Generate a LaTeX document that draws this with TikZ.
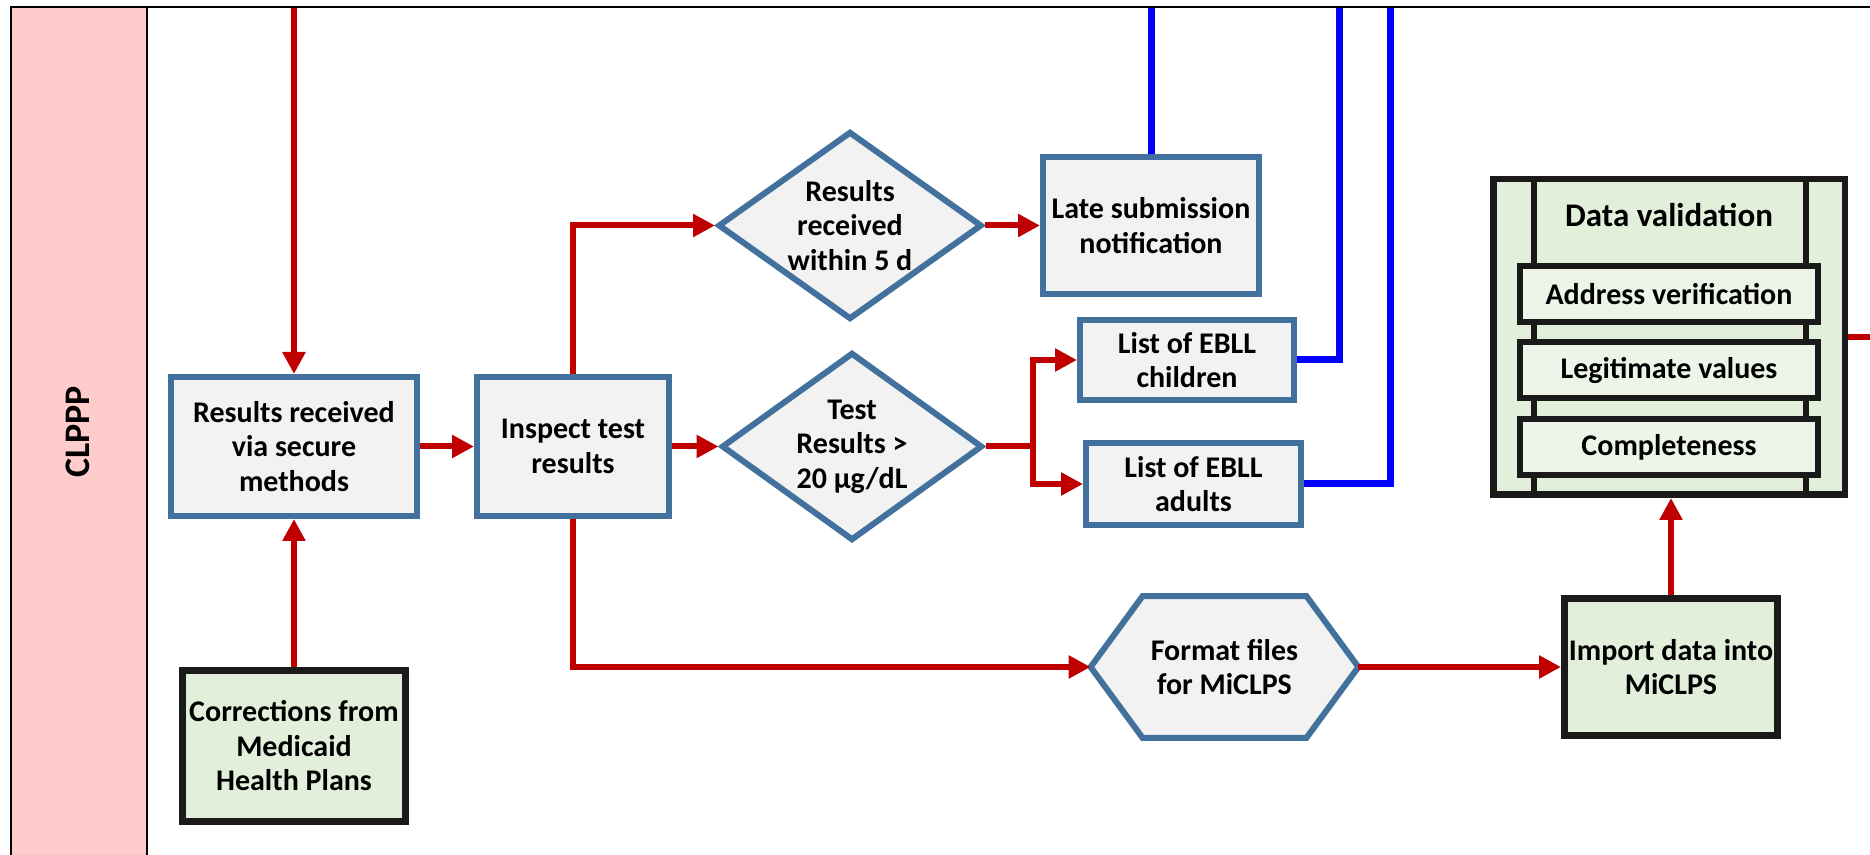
\documentclass[tikz,border=0pt]{standalone}
\usepackage{fontspec}
\setmainfont{Carlito}
\usetikzlibrary{arrows.meta,shapes.geometric,calc,backgrounds}
\definecolor{lanepink}{HTML}{FFCCCC}
\definecolor{boxblue}{RGB}{65,113,156}
\definecolor{boxgray}{HTML}{F2F2F2}
\definecolor{flowred}{HTML}{C00000}
\definecolor{flowblue}{HTML}{0000FF}
\definecolor{boxgreen}{HTML}{E2EFDA}
\definecolor{subgreen}{HTML}{EDF4E8}
\definecolor{edgeblack}{HTML}{1A1A1A}
\begin{document}
\begin{tikzpicture}[x=0.5pt,y=-0.5pt,
  txt/.style={font=\fontsize{15}{17.25}\selectfont\bfseries, align=center, text=black},
  bluebox/.style={txt, draw=boxblue, fill=boxgray, line width=3pt, inner sep=0pt},
  greenbox/.style={txt, draw=edgeblack, fill=boxgreen, line width=3.5pt, inner sep=0pt},
  subbox/.style={txt, draw=edgeblack, fill=subgreen, line width=3pt, inner sep=0pt, minimum width=149pt, minimum height=28pt},
  dia/.style={shape=diamond, draw=boxblue, fill=boxgray, line width=3pt, inner sep=0pt},
  redflow/.style={draw=flowred, line width=3pt, -{Triangle[length=11pt,width=11pt]}},
  redline/.style={draw=flowred, line width=3pt},
  blueline/.style={draw=flowblue, line width=3.5pt},
  lanetitle/.style={font=\fontsize{18}{20}\selectfont\bfseries, rotate=90},
]
\useasboundingbox (0,0) rectangle (1870,855);
% swimlane background
\begin{scope}[on background layer]
\fill[lanepink] (11,7) rectangle (147,855);
\end{scope}
\node[lanetitle] (lane) at (78,432) {CLPPP};

% process nodes
\node[bluebox, minimum width=123pt, minimum height=69.5pt] (recv) at (294,446.5) {Results received\\via secure\\methods};
\node[bluebox, minimum width=96pt, minimum height=69.5pt] (insp) at (573,446.5) {Inspect test\\results};
\node[dia, minimum width=132pt, minimum height=94pt,
  label={[txt]center:{Results\\received\\within 5 d}}] (d1) at (850,225.5) {};
\node[bluebox, minimum width=108pt, minimum height=68.5pt] (late) at (1151,225.5) {Late submission\\notification};
\node[dia, minimum width=130.5pt, minimum height=94pt,
  label={[txt]center:{Test\\Results >\\20 µg/dL}}] (d2) at (852,446.5) {};
\node[bluebox, minimum width=107pt, minimum height=40pt] (kids) at (1187,360) {List of EBLL\\children};
\node[bluebox, minimum width=107.5pt, minimum height=41pt] (adults) at (1193.5,484) {List of EBLL\\adults};
\node[txt, minimum width=133.5pt, minimum height=70.5pt, inner sep=0pt] (fmt) at (1224.5,667) {Format files\\for MiCLPS};
\begin{scope}[on background layer]
\draw[draw=boxblue, fill=boxgray, line width=3pt]
  (fmt.west) -- ($(fmt.north west)+(52,0)$) -- ($(fmt.north east)+(-52,0)$) -- (fmt.east)
  -- ($(fmt.south east)+(-52,0)$) -- ($(fmt.south west)+(52,0)$) -- cycle;
\end{scope}
\node[greenbox, minimum width=106.5pt, minimum height=68.5pt] (imp) at (1671,667) {Import data into\\MiCLPS};
\node[greenbox, minimum width=111.5pt, minimum height=75.5pt] (corr) at (294,746) {Corrections from\\Medicaid\\Health Plans};

% data validation block
\node[draw=edgeblack, fill=boxgreen, line width=3.25pt, minimum width=175.75pt, minimum height=157.75pt, inner sep=0pt] (dv) at (1669,337) {};
\draw[edgeblack, line width=3.25pt] ($(dv.north west)+(44,0)$) -- ($(dv.south west)+(44,0)$);
\draw[edgeblack, line width=3.25pt] ($(dv.north east)+(-42,0)$) -- ($(dv.south east)+(-42,0)$);
\node[txt, font=\fontsize{16.5}{19}\selectfont\bfseries] (dvt) at (1669,215) {Data validation};
\node[subbox] (addr) at (1669,294) {Address verification};
\node[subbox] (legit) at (1669,370.5) {Legitimate values};
\node[subbox] (compl) at (1669,447.5) {Completeness};

% free ends
\coordinate (inR) at (294,7);
\coordinate (split) at (1033,446.5);
\coordinate (outR) at (1870,337);
\coordinate (b1) at (1151,7);
\coordinate (b2) at (1339,7);
\coordinate (b3) at (1390,7);

% red connectors
\draw[redflow] (inR) -- (recv.north);
\draw[redflow] (corr.north) -- (recv.south);
\draw[redflow] (recv.east) -- (insp.west);
\draw[redflow] (insp.north) |- (d1.west);
\draw[redflow] (d1.east) -- (late.west);
\draw[redflow] (insp.east) -- (d2.west);
\draw[redline] (d2.east) -- (split);
\draw[redflow] (split) |- (kids.west);
\draw[redflow] (split) |- (adults.west);
\draw[redflow] (insp.south) |- (fmt.west);
\draw[redflow] (fmt.east) -- (imp.west);
\draw[redflow] (imp.north) -- (imp.north |- dv.south);
\draw[redline] (dv.east) -- (outR);

% blue connectors
\draw[blueline] (late.north) -- (b1);
\draw[blueline] (kids.east) -| (b2);
\draw[blueline] (adults.east) -| (b3);

% frame
\draw[line width=1pt] (11,855) -- (11,7) -- (1870,7);
\draw[line width=1pt] (147,7) -- (147,855);
\end{tikzpicture}
\end{document}
